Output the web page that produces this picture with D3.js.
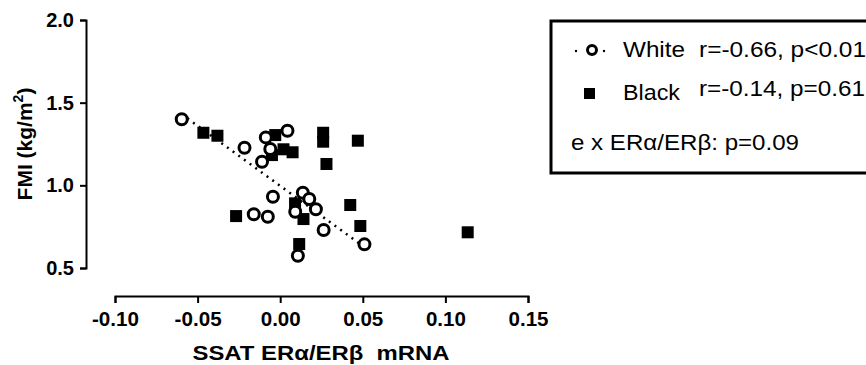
<!DOCTYPE html>
<html>
<head>
<meta charset="utf-8">
<script src="https://cdn.jsdelivr.net/npm/d3@7"></script>
<style>
body{margin:0;background:#fff;}
svg{display:block;font-family:Arial,"Liberation Sans",sans-serif;}
</style>
</head>
<body>
<svg id="canvas" width="866" height="365"></svg>
<script>
// data
let whiteX=[-0.0596,-0.0216,-0.0087,0.0044,-0.006,-0.011,-0.0044,-0.016,-0.0075,0.0137,0.0176,0.0216,0.0091,0.0263,0.051,0.0107];
let whiteY=[1.40,1.227,1.29,1.33,1.22,1.143,0.931,0.825,0.81,0.955,0.917,0.855,0.84,0.73,0.643,0.574];
let blackX=[-0.0465,-0.038,-0.003,0.002,0.0075,-0.005,0.026,0.026,0.047,0.028,0.0424,0.0485,-0.0267,0.009,0.0141,0.0115,0.1135];
let blackY=[1.318,1.30,1.304,1.218,1.20,1.183,1.318,1.264,1.27,1.129,0.881,0.754,0.814,0.891,0.796,0.645,0.716];
let fitWhiteX=[-0.0596,0.051];
let fitWhiteY=[1.43,0.626];
let xTicks=[-0.10,-0.05,0.00,0.05,0.10,0.15];
let yTicks=[0.5,1.0,1.5,2.0];
let legendRows=[["White","r=-0.66, p<0.01"],["Black","r=-0.14, p=0.61"]];
let interactionText="e x ER\u03b1/ER\u03b2: p=0.09";

let canvas=d3.select("#canvas");

let xScale=d3.scaleLinear().domain([-0.10,0.15]).range([115,528]);
let yScale=d3.scaleLinear().domain([0.5,2.0]).range([268,20]);

let xAxis=d3.axisBottom(xScale).tickValues(xTicks).tickFormat(d=>d.toFixed(2)).tickSizeOuter(0).tickSize(7).tickPadding(9);
let yAxis=d3.axisLeft(yScale).tickValues(yTicks).tickFormat(d=>d.toFixed(1)).tickSizeOuter(0).tickSize(6).tickPadding(6);

let gx=canvas.append("g").attr("transform","translate(0,296)").call(xAxis);
let gy=canvas.append("g").attr("transform","translate(86,0)").call(yAxis);
[gx,gy].forEach(g=>{
  g.selectAll("path,line").attr("stroke","#000").attr("stroke-width",2);
  g.selectAll("text").attr("fill","#000").style("font","bold 20px Arial, 'Liberation Sans', sans-serif");
});
gx.selectAll("text").attr("textLength",d=>d<0?47:40).attr("lengthAdjust","spacingAndGlyphs");

// axis titles
canvas.append("text").text("SSAT ER\u03b1/ER\u03b2  mRNA").attr("x",321).attr("y",360)
  .attr("text-anchor","middle").style("font","bold 21px Arial, 'Liberation Sans', sans-serif").style("white-space","pre")
  .attr("textLength",257).attr("lengthAdjust","spacingAndGlyphs");
let yl=canvas.append("text").attr("transform","translate(32,144) rotate(-90)").attr("text-anchor","middle")
  .style("font","bold 21px Arial, 'Liberation Sans', sans-serif");
yl.append("tspan").text("FMI (kg/m");
yl.append("tspan").text("2").attr("dy",-9).style("font-size","14px");
yl.append("tspan").text(")").attr("dy",9);

// regression line for White
canvas.append("line")
  .attr("x1",xScale(fitWhiteX[0])).attr("y1",yScale(fitWhiteY[0]))
  .attr("x2",xScale(fitWhiteX[1])).attr("y2",yScale(fitWhiteY[1]))
  .attr("stroke","#000").attr("stroke-width",2.5).attr("stroke-dasharray","2,5");

// Black squares
let sq=12;
canvas.selectAll("rect.black").data(blackX).enter().append("rect").attr("class","black")
  .attr("x",(d)=>xScale(d)-sq/2).attr("y",(d,i)=>yScale(blackY[i])-sq/2)
  .attr("width",sq).attr("height",sq).attr("fill","#000");

// White open circles
canvas.selectAll("circle.white").data(whiteX).enter().append("circle").attr("class","white")
  .attr("cx",(d)=>xScale(d)).attr("cy",(d,i)=>yScale(whiteY[i])).attr("r",5.5)
  .attr("fill","#fff").attr("stroke","#000").attr("stroke-width",3);

// legend
let lg=canvas.append("g");
lg.append("rect").attr("x",551).attr("y",21).attr("width",340).attr("height",152)
  .attr("fill","none").attr("stroke","#000").attr("stroke-width",3);
lg.append("circle").attr("cx",592).attr("cy",50).attr("r",4.5).attr("fill","#fff").attr("stroke","#000").attr("stroke-width",3);
[576,604].forEach(x=>lg.append("circle").attr("cx",x).attr("cy",51).attr("r",1.2).attr("fill","#000"));
lg.append("rect").attr("x",584).attr("y",88).attr("width",11).attr("height",11).attr("fill","#000");
let lf="22px Arial, 'Liberation Sans', sans-serif";
let rowY=[[57,57],[100,96]];
let rowW=[[62,167],[57,166]];
legendRows.forEach((r,i)=>{
  lg.append("text").text(r[0]).attr("x",623).attr("y",rowY[i][0]).style("font",lf)
    .attr("textLength",rowW[i][0]).attr("lengthAdjust","spacingAndGlyphs");
  lg.append("text").text(r[1]).attr("x",699).attr("y",rowY[i][1]).style("font",lf)
    .attr("textLength",rowW[i][1]).attr("lengthAdjust","spacingAndGlyphs");
});
lg.append("text").text(interactionText).attr("x",571).attr("y",150).style("font",lf)
  .attr("textLength",228).attr("lengthAdjust","spacingAndGlyphs");
</script>
</body>
</html>
